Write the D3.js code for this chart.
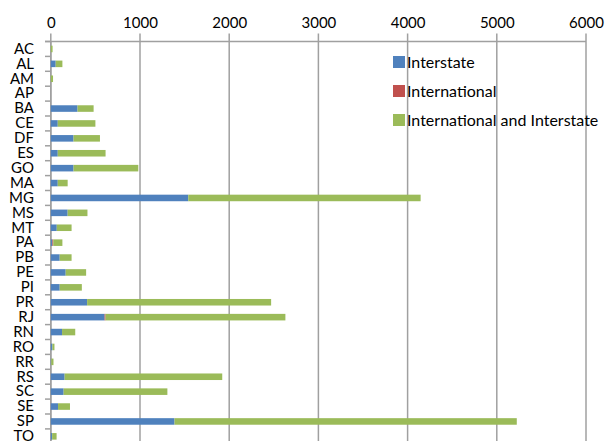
<!DOCTYPE html>
<html><head><meta charset="utf-8">
<script src="https://cdn.jsdelivr.net/npm/d3@7"></script>
<style>
html,body{margin:0;padding:0;background:#fff;}
svg text{font-family:Lato,"Open Sans",sans-serif;fill:#000;}
</style></head>
<body><svg id="c" width="605" height="441"></svg>
<script>
const categories = ["AC","AL","AM","AP","BA","CE","DF","ES","GO","MA","MG","MS","MT","PA","PB","PE","PI","PR","RJ","RN","RO","RR","RS","SC","SE","SP","TO"];
const interstate = [0,55,0,0,300,78,255,78,255,78,1541,189,67,18,100,167,100,407,603,126,18,5,155,144,81,1387,15];
const international = [0,0,0,0,0,0,0,0,0,0,0,0,0,10,0,0,0,0,11,0,0,0,0,0,0,0,0];
const interAndInter = [20,75,25,0,180,422,296,536,726,111,2605,222,166,102,133,229,248,2063,2016,148,23,25,1767,1163,134,3837,50];
const seriesNames = ["Interstate","International","International and Interstate"];
const colors = ["#4F81BD","#C0504D","#9BBB59"];
const xTicks = [0,1000,2000,3000,4000,5000,6000];

const svg = d3.select("#c");
const pLeft = 50.8, pRight = 586, pTop = 41.5, step = 14.9;
const x = d3.scaleLinear().domain([0,6000]).range([pLeft,pRight]);
const y = d3.scaleBand().domain(categories).range([pTop, pTop + step*categories.length]).paddingInner(0.56).paddingOuter(0.28);

const rows = categories.map((c,i)=>({cat:c, vals:[interstate[i], international[i], interAndInter[i]]}));
const stacked = d3.stack().keys([0,1,2]).value((d,k)=>d.vals[k])(rows);

// gridlines
svg.append("g").selectAll("line").data(xTicks).join("line")
  .attr("x1",d=>x(d)).attr("x2",d=>x(d))
  .attr("y1",pTop-8).attr("y2",441)
  .attr("stroke","#a0a0a0").attr("stroke-width",1.5);

// top axis line
svg.append("line").attr("x1",45).attr("x2",x(6000)).attr("y1",pTop).attr("y2",pTop)
  .attr("stroke","#a0a0a0").attr("stroke-width",1.5);

// top tick labels
const ax = d3.axisTop(x).tickValues(xTicks).tickSize(0).tickPadding(0).tickFormat(d3.format("d"));
const gx = svg.append("g").attr("transform",`translate(0,${pTop-14})`).call(ax);
gx.select(".domain").remove();
gx.selectAll("text").style("font-size","15px").attr("font-family","Lato");

// left axis line + ticks at band boundaries
svg.append("line").attr("x1",pLeft).attr("x2",pLeft).attr("y1",pTop).attr("y2",441)
  .attr("stroke","#a0a0a0").attr("stroke-width",1.5);
const bounds = d3.range(categories.length+1).map(i=>pTop + i*y.step());
svg.append("g").selectAll("line").data(bounds).join("line")
  .attr("x1",45).attr("x2",pLeft).attr("y1",d=>d).attr("y2",d=>d)
  .attr("stroke","#a0a0a0").attr("stroke-width",1.5);

// bars
svg.append("g").selectAll("g").data(stacked).join("g")
  .attr("fill",(d,i)=>colors[i])
  .selectAll("rect").data(d=>d).join("rect")
  .attr("x",d=>x(d[0])).attr("width",d=>Math.max(0,x(d[1])-x(d[0])))
  .attr("y",d=>y(d.data.cat)).attr("height",y.bandwidth());

// category labels
const ay = d3.axisLeft(y).tickSize(0).tickPadding(0);
const gy = svg.append("g").attr("transform","translate(34,0)").call(ay);
gy.select(".domain").remove();
gy.selectAll("text").style("font-size","15px").attr("font-family","Lato");

// legend
const lg = svg.append("g").attr("transform","translate(393,0)");
seriesNames.forEach((n,i)=>{
  const cy = 62 + i*29;
  lg.append("rect").attr("x",0).attr("y",cy-6).attr("width",12).attr("height",12).attr("fill",colors[i]);
  lg.append("text").attr("x",14).attr("y",cy).attr("dy","0.35em").style("font-size","16px").text(n);
});
</script></body></html>
